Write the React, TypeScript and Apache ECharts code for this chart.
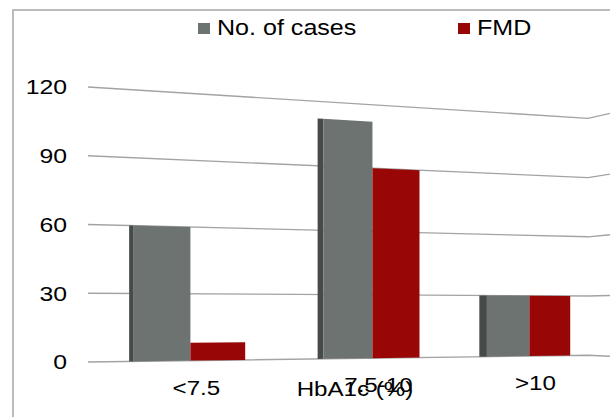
import React, { useEffect, useRef } from "react";
import * as echarts from "echarts";

// HbA1c groups and counts
const categories = ["<7.5", "7.5-10", ">10"];
const casesValues = [60, 112, 30];
const fmdValues = [8, 90, 30];
const yTicks = [0, 30, 60, 90, 120];
const seriesNames = ["No. of cases", "FMD"];
const axisTitle = "HbA1c (%)";

// colours
const GREY = "#6c7370";
const GREY_SIDE = "#464b49";
const RED = "#990606";
const GRID_LINE = "#a3a3a3";
const FONT = "'Liberation Sans', Arial, sans-serif";
const STRETCH = 1.15;

// flat plot box and the perspective used to tilt it
const GRID_LEFT = 88;
const GRID_TOP = 87;
const GRID_W = 512;
const GRID_H = 275;
const BACK_RIGHT = 588; // far end of the back wall
const SIDE_RIGHT = 610; // visible part of the right-hand wall
const DEPTH_K = 0.25;

const backY = (y: number) => 0.8618 * y + 43.3;
const sideY = (y: number) => 0.8836 * y + 36.4;

// horizontal foreshortening of a flat x position
const projX = (x: number) => {
  const s = (x - GRID_LEFT) / GRID_W;
  const g = ((1 + DEPTH_K) * s) / (1 + DEPTH_K * s);
  return GRID_LEFT + GRID_W * g;
};
// vertical position of a flat y at screen x
const projY = (sx: number, y: number) => {
  const t = (sx - GRID_LEFT) / (BACK_RIGHT - GRID_LEFT);
  return y + t * (backY(y) - y);
};
const quad = (sa: number, sb: number, yTop: number, yBase: number) => [
  [sa, projY(sa, yTop)],
  [sb, projY(sb, yTop)],
  [sb, projY(sb, yBase)],
  [sa, projY(sa, yBase)],
];

const barRenderer = (which: number, fill: string) => (params: any, api: any) => {
  const i = api.value(0);
  const v = api.value(1);
  const [cx, yTop] = api.coord([i, v]);
  const yBase = api.coord([i, 0])[1];
  const band = api.size([1, 0])[0];
  const bw = band * 0.285;
  const x0 = which === 0 ? cx - bw : cx;
  const sx0 = projX(x0);
  const sx1 = projX(x0 + bw);
  const children: any[] = [];
  if (which === 0) {
    const sideW = 3 + 5.5 * ((cx - GRID_LEFT) / GRID_W);
    children.push({
      type: "polygon",
      shape: { points: quad(sx0 - sideW, sx0, yTop, yBase) },
      style: { fill: GREY_SIDE },
    });
  }
  children.push({
    type: "polygon",
    shape: { points: quad(sx0, sx1, yTop, yBase) },
    style: { fill },
  });
  return { type: "group", children };
};

const gridRenderer = (params: any, api: any) => {
  const v = api.value(1);
  const y = api.coord([0, v])[1];
  return {
    type: "group",
    children: [
      {
        type: "polyline",
        shape: {
          points: [
            [GRID_LEFT, y],
            [BACK_RIGHT, backY(y)],
            [SIDE_RIGHT, sideY(y)],
          ],
        },
        style: { stroke: GRID_LINE, lineWidth: 1.3, fill: "none" },
      },
      {
        type: "text",
        x: 67,
        y,
        scaleX: 1.18,
        style: {
          text: String(v),
          fontSize: 21,
          fontFamily: FONT,
          fill: "#000",
          align: "right",
          verticalAlign: "middle",
        },
      },
    ],
  };
};

const labelRenderer = (params: any, api: any) => {
  const i = api.value(0);
  const [cx, y0] = api.coord([i, 0]);
  const sx = projX(cx) + 6;
  return {
    type: "text",
    x: sx,
    y: projY(sx, y0) + 27,
    scaleX: STRETCH,
    style: {
      text: categories[i],
      fontSize: 21,
      fontFamily: FONT,
      fill: "#000",
      align: "center",
      verticalAlign: "middle",
    },
  };
};

const legendItem = (x: number, color: string, text: string) => ({
  type: "group",
  children: [
    { type: "rect", shape: { x, y: 23, width: 12, height: 11 }, style: { fill: color } },
    {
      type: "text",
      x: x + 19,
      y: 28,
      scaleX: 1.14,
      style: {
        text,
        fontSize: 22,
        fontFamily: FONT,
        fill: "#000",
        align: "left",
        verticalAlign: "middle",
      },
    },
  ],
});

export default function App() {
  const ref = useRef<HTMLDivElement>(null);

  useEffect(() => {
    if (!ref.current) return;
    const chart = echarts.init(ref.current, null, { renderer: "svg" });
    chart.setOption({
      animation: false,
      backgroundColor: "#ffffff",
      grid: { left: GRID_LEFT, top: GRID_TOP, width: GRID_W, height: GRID_H },
      xAxis: { type: "category", data: categories, show: false },
      yAxis: { type: "value", min: 0, max: 120, interval: 30, show: false },
      graphic: [
        {
          type: "rect",
          shape: { x: 13, y: 10, width: 640, height: 440 },
          style: { fill: "none", stroke: "#a6a6a6", lineWidth: 1.5 },
          z: 0,
        },
        legendItem(198, GREY, seriesNames[0]),
        legendItem(458, RED, seriesNames[1]),
        {
          type: "text",
          x: 355,
          y: 389,
          scaleX: STRETCH,
          z: 10,
          style: {
            text: axisTitle,
            fontSize: 21,
            fontFamily: FONT,
            fill: "#000",
            align: "center",
            verticalAlign: "middle",
          },
        },
      ],
      series: [
        {
          type: "custom",
          name: "grid",
          clip: false,
          silent: true,
          renderItem: gridRenderer,
          data: yTicks.map((v) => [0, v]),
        },
        {
          type: "custom",
          name: seriesNames[0],
          clip: false,
          renderItem: barRenderer(0, GREY),
          data: casesValues.map((v, i) => [i, v]),
        },
        {
          type: "custom",
          name: seriesNames[1],
          clip: false,
          renderItem: barRenderer(1, RED),
          data: fmdValues.map((v, i) => [i, v]),
        },
        {
          type: "custom",
          name: "labels",
          clip: false,
          silent: true,
          renderItem: labelRenderer,
          data: categories.map((_, i) => [i, 0]),
        },
      ],
    });
    return () => chart.dispose();
  }, []);

  return (
    <div
      ref={ref}
      style={{ position: "fixed", left: 0, top: 0, width: 610, height: 417, background: "#fff" }}
    />
  );
}
